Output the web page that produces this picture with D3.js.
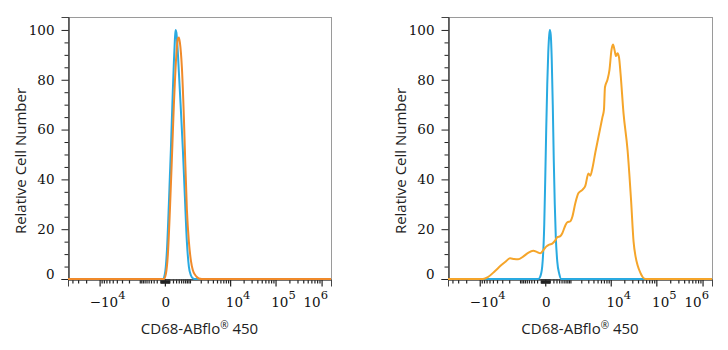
<!DOCTYPE html>
<html><head><meta charset="utf-8">
<script src="https://cdn.jsdelivr.net/npm/d3@7"></script>
<style>body{margin:0;background:#fff}</style>
</head><body>
<svg id="chart" width="728" height="350"></svg>
<script>
// ---------- data ----------
const xTickValues = [-1e4, 0, 1e4, 1e5, 1e6];
const xTickBase = ["\u221210", "0", "10", "10", "10"];
const xTickExp = ["4", "", "4", "5", "6"];
const yTickValues = [0, 20, 40, 60, 80, 100];
const xAxisTitle = "CD68-ABflo";
const xAxisTitleSup = "\u00AE";
const xAxisTitleTail = " 450";
const yAxisTitle = "Relative Cell Number";

// left panel: isotype (blue) vs stained (orange)
const leftBlueX = [-50000, -42, 0, 42, 88, 113, 140, 167, 196, 227, 259, 282, 310, 347, 405, 489, 582, 686, 800, 926, 1065, 1219, 1389, 1600000];
const leftBlueY = [0, 0, 2, 11, 30, 41, 52, 64, 76, 87, 96, 100, 99, 94, 83, 68, 52, 33, 15, 5, 1.5, 0.3, 0, 0];
const leftOrangeX = [-50000, -20, 20, 65, 113, 167, 196, 227, 259, 293, 328, 366, 405, 446, 535, 633, 686, 800, 926, 1065, 1219, 1389, 1577, 1784, 2137, 1600000];
const leftOrangeY = [0, 0, 2, 10, 27, 48, 59, 70, 79, 87, 93, 96.5, 97, 95, 85, 65, 52, 28, 15, 7.5, 3.5, 1.8, 0.8, 0.2, 0, 0];

// right panel
const rightBlueX = [-50000, -167, -113, -65, -20, 0, 20, 42, 65, 88, 103, 126, 153, 182, 211, 243, 276, 328, 405, 489, 1600000];
const rightBlueY = [0, 0, 1, 5, 22, 40, 60, 78, 91, 98, 100, 98, 88, 70, 48, 30, 17, 7, 2, 0, 0];
const rightOrangeX = [-50000, -8436, -6484, -4453, -3199, -2546, -1896, -1480, -1140, -800, -535, -328, -196, -113, -42, 20, 88, 167, 259, 328, 446, 535, 686, 800, 994, 1140, 1389, 1678, 2137, 2546, 3023, 3382, 3780, 4453, 5240, 5832, 6484, 7022, 7402, 8436, 9364, 10392, 11232, 12136, 13112, 14160, 15292, 16512, 19244, 23592, 28168, 31968, 35372, 39120, 45520, 50320, 58520, 1600000];
const rightOrangeY = [0, 0, 0.8, 3.2, 5.5, 6.8, 8.3, 8.0, 7.9, 9.0, 10.5, 11.3, 10.8, 10.3, 11.5, 13, 13.8, 14.2, 15.5, 16.8, 17.2, 18.4, 21.5, 22.8, 23.2, 25, 30.5, 34.4, 35.8, 37.5, 42.4, 41.5, 44.5, 51, 57, 61, 65, 68, 77, 80, 84, 92, 94.2, 92, 89.5, 90.6, 89, 82.6, 66.5, 51.8, 31.7, 15, 9, 5.5, 2.3, 0.8, 0, 0];

const BLUE = "#29aae1";
const panels = [
  {left: 68, right: 331, series: [
    {x: leftBlueX, y: leftBlueY, color: BLUE},
    {x: leftOrangeX, y: leftOrangeY, color: "#f08a2a"}]},
  {left: 448, right: 712, series: [
    {x: rightBlueX, y: rightBlueY, color: BLUE},
    {x: rightOrangeX, y: rightOrangeY, color: "#f5a52a"}]}
];

const plotTop = 17, plotBottom = 279;
const svg = d3.select("#chart");
const serif = "'DejaVu Serif', serif";
const sans = "'Open Sans', 'Noto Sans', sans-serif";

// minor ticks on the biexponential axis
const minorX = [];
for (let n = 1; n <= 6; n++) {
  for (let k = 1; k <= 9; k++) {
    const v = k * Math.pow(10, n);
    [v, -v].forEach(t => { if (!xTickValues.includes(t)) minorX.push(t); });
  }
}
const minorY = d3.range(0, 105, 5).filter(v => v % 20 !== 0);

panels.forEach((p, i) => {
  const x = d3.scaleSymlog().constant(400).domain([-50000, 1600000]).range([p.left, p.right]);
  const y = d3.scaleLinear().domain([0, 105.2]).range([plotBottom, plotTop]);
  const g = svg.append("g");

  const clipId = "clip" + i;
  g.append("clipPath").attr("id", clipId).append("rect")
    .attr("x", p.left).attr("y", plotTop).attr("width", p.right - p.left).attr("height", plotBottom - plotTop + 2);

  // frame
  g.append("rect").attr("x", p.left + 0.5).attr("y", plotTop + 0.5)
    .attr("width", p.right - p.left).attr("height", plotBottom - plotTop)
    .attr("fill", "none").attr("stroke", "#9a9a9a").attr("stroke-width", 1);

  // y axis
  const minorXFiltered = minorX.filter(v => v > -50000 && v < 1600000);
  const yMinor = g.append("g").attr("transform", `translate(${p.left + 0.5},0)`)
    .call(d3.axisLeft(y).tickValues(minorY).tickSize(4).tickFormat(""));
  const yMajor = g.append("g").attr("transform", `translate(${p.left + 0.5},0)`)
    .call(d3.axisLeft(y).tickValues(yTickValues).tickSize(7).tickPadding(7).tickFormat(d3.format("d")));
  [yMinor, yMajor].forEach(a => {
    a.select(".domain").attr("stroke", "#444");
    a.selectAll(".tick line").attr("stroke", "#222");
  });
  yMajor.selectAll(".tick text").attr("font-family", serif).attr("font-size", 13.5).attr("fill", "#111")
    .attr("dy", d => d === 0 ? "-0.05em" : "0.32em");

  // x axis
  const xMinor = g.append("g").attr("transform", `translate(0,${plotBottom + 0.5})`)
    .call(d3.axisBottom(x).tickValues(minorXFiltered).tickSize(4).tickFormat(""));
  const xMajor = g.append("g").attr("transform", `translate(0,${plotBottom + 0.5})`)
    .call(d3.axisBottom(x).tickValues(xTickValues).tickSize(7).tickFormat(""));
  [xMinor, xMajor].forEach(a => {
    a.select(".domain").attr("stroke", "#444");
    a.selectAll(".tick line").attr("stroke", "#222").attr("stroke-width", 1.2);
  });

  // x tick labels with superscripts
  xTickValues.forEach((v, j) => {
    const hasExp = xTickExp[j] !== "";
    let cx = x(v) + (hasExp ? 8 : 1);
    const t = g.append("text").attr("y", 307).attr("font-family", serif)
      .attr("font-size", 13.5).attr("fill", "#111").attr("text-anchor", "middle");
    t.append("tspan").text(xTickBase[j]);
    if (hasExp) t.append("tspan").attr("font-size", 11.5).attr("dy", -8).text(xTickExp[j]);
    const w = t.node().getComputedTextLength();
    if (cx + w / 2 > p.right - 3) cx = p.right - 3 - w / 2;
    t.attr("x", cx);
  });

  // curves
  const line = d3.line().x(d => x(d[0])).y(d => y(d[1])).curve(d3.curveMonotoneX);
  const cg = g.append("g").attr("clip-path", `url(#${clipId})`);
  p.series.forEach(s => {
    cg.append("path").datum(s.x.map((xv, k) => [xv, s.y[k]]))
      .attr("d", line).attr("fill", "none").attr("stroke", s.color)
      .attr("stroke-width", 2).attr("stroke-linejoin", "round");
  });

  // axis titles
  const xt = g.append("text").attr("x", (p.left + p.right) / 2).attr("y", 334)
    .attr("text-anchor", "middle").attr("font-family", sans).attr("font-size", 15).attr("fill", "#222");
  xt.append("tspan").text(xAxisTitle);
  xt.append("tspan").attr("font-size", 10).attr("dy", -5).text(xAxisTitleSup);
  xt.append("tspan").attr("dy", 5).text(xAxisTitleTail);

  g.append("text").attr("transform", `translate(${p.left - 42},161) rotate(-90)`)
    .attr("text-anchor", "middle").attr("font-family", sans).attr("font-size", 15).attr("fill", "#222")
    .text(yAxisTitle);
});
</script>
</body></html>
